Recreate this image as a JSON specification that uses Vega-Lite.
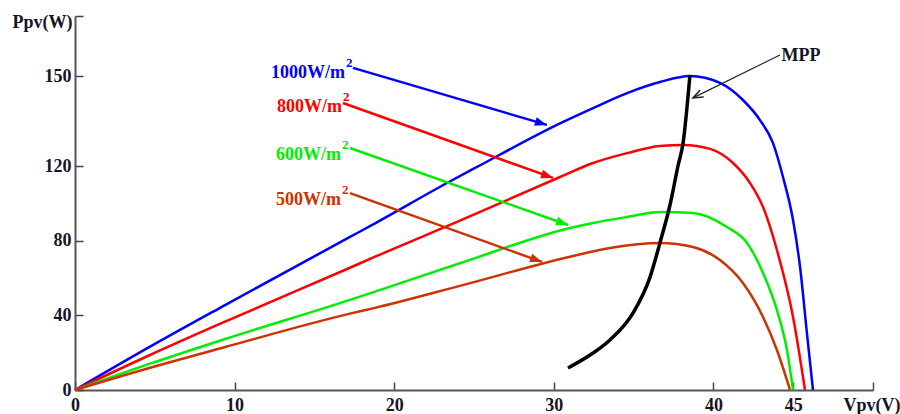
{
  "$schema": "https://vega.github.io/schema/vega-lite/v6.json",
  "width": 798,
  "height": 374,
  "autosize": "none",
  "padding": {"left": 75, "top": 16, "right": 27, "bottom": 24},
  "background": "white",
  "config": {"view": {"stroke": null}, "font": "Liberation Serif"},
  "datasets": {
    "curves": [
      {"s": "1000", "V": 0, "P": 0}, {"s": "1000", "V": 4.7, "P": 23.2}, {"s": "1000", "V": 9.4, "P": 45.5},
      {"s": "1000", "V": 17.23, "P": 82.0}, {"s": "1000", "V": 18.8, "P": 89.3}, {"s": "1000", "V": 23.31, "P": 110.9},
      {"s": "1000", "V": 25.3, "P": 120.0}, {"s": "1000", "V": 30.39, "P": 134.2}, {"s": "1000", "V": 32.46, "P": 139.3},
      {"s": "1000", "V": 34.59, "P": 144.3}, {"s": "1000", "V": 36.65, "P": 148.0}, {"s": "1000", "V": 38.53, "P": 150.0},
      {"s": "1000", "V": 40.41, "P": 147.7}, {"s": "1000", "V": 41.85, "P": 142.0}, {"s": "1000", "V": 42.92, "P": 135.3},
      {"s": "1000", "V": 43.73, "P": 127.7}, {"s": "1000", "V": 44.36, "P": 114.1}, {"s": "1000", "V": 44.99, "P": 91.1},
      {"s": "1000", "V": 45.43, "P": 65.9}, {"s": "1000", "V": 45.86, "P": 30.5}, {"s": "1000", "V": 46.24, "P": 0},
      {"s": "800", "V": 0, "P": 0}, {"s": "800", "V": 4.7, "P": 18.75}, {"s": "800", "V": 9.4, "P": 36.6},
      {"s": "800", "V": 17.23, "P": 65.5}, {"s": "800", "V": 18.8, "P": 71.4}, {"s": "800", "V": 24.12, "P": 90.7},
      {"s": "800", "V": 30.39, "P": 114.1}, {"s": "800", "V": 32.46, "P": 121.0},
      {"s": "800", "V": 34.59, "P": 124.3}, {"s": "800", "V": 36.65, "P": 126.7}, {"s": "800", "V": 38.1, "P": 127.0},
      {"s": "800", "V": 39.79, "P": 125.7}, {"s": "800", "V": 41.23, "P": 121.0}, {"s": "800", "V": 42.29, "P": 110.9},
      {"s": "800", "V": 43.11, "P": 98.0}, {"s": "800", "V": 43.98, "P": 75.0}, {"s": "800", "V": 44.99, "P": 39.1},
      {"s": "800", "V": 45.74, "P": 0},
      {"s": "600", "V": 0, "P": 0}, {"s": "600", "V": 4.7, "P": 14.1}, {"s": "600", "V": 9.4, "P": 27.3},
      {"s": "600", "V": 17.23, "P": 48.3}, {"s": "600", "V": 18.8, "P": 52.7}, {"s": "600", "V": 24.12, "P": 67.9},
      {"s": "600", "V": 31.02, "P": 86.8}, {"s": "600", "V": 32.46, "P": 89.5}, {"s": "600", "V": 34.59, "P": 92.7},
      {"s": "600", "V": 36.65, "P": 95.4}, {"s": "600", "V": 38.72, "P": 94.8}, {"s": "600", "V": 40.85, "P": 87.3},
      {"s": "600", "V": 42.11, "P": 78.8}, {"s": "600", "V": 43.11, "P": 62.7}, {"s": "600", "V": 43.98, "P": 42.9},
      {"s": "600", "V": 44.61, "P": 21.4}, {"s": "600", "V": 44.99, "P": 0},
      {"s": "500", "V": 0, "P": 0}, {"s": "500", "V": 4.7, "P": 11.9}, {"s": "500", "V": 9.4, "P": 23.0},
      {"s": "500", "V": 17.23, "P": 40.9}, {"s": "500", "V": 18.8, "P": 44.0}, {"s": "500", "V": 24.12, "P": 55.8},
      {"s": "500", "V": 31.02, "P": 71.4}, {"s": "500", "V": 33.52, "P": 76.1}, {"s": "500", "V": 36.65, "P": 78.8},
      {"s": "500", "V": 38.72, "P": 76.6}, {"s": "500", "V": 40.41, "P": 69.6}, {"s": "500", "V": 41.85, "P": 57.3},
      {"s": "500", "V": 43.11, "P": 39.1}, {"s": "500", "V": 43.98, "P": 21.4}, {"s": "500", "V": 44.8, "P": 0}
    ],
    "mpp": [
      {"V": 30.89, "P": 11.8}, {"V": 32.46, "P": 19.8}, {"V": 33.52, "P": 26.8}, {"V": 34.96, "P": 41.2},
      {"V": 36.03, "P": 60.5}, {"V": 36.65, "P": 78.8}, {"V": 37.28, "P": 99.1}, {"V": 37.78, "P": 120.0},
      {"V": 38.1, "P": 127.7}, {"V": 38.53, "P": 150.3}
    ],
    "arrows": [
      {"s": "1000", "V": 17.42, "P": 152.7, "V2": 29.57, "P2": 133.7},
      {"s": "800", "V": 16.79, "P": 141.0, "V2": 29.95, "P2": 113.6},
      {"s": "600", "V": 17.23, "P": 126.0, "V2": 30.89, "P2": 88.4},
      {"s": "500", "V": 17.23, "P": 105.5, "V2": 29.26, "P2": 68.6}
    ],
    "mppArrow": [
      {"V": 44.17, "P": 157.0, "V2": 38.72, "P2": 142.7}
    ],
    "labels": [
      {"s": "1000", "text": "1000W/m", "V": 16.92, "P": 151.0},
      {"s": "800", "text": "800W/m", "V": 16.73, "P": 139.7},
      {"s": "600", "text": "600W/m", "V": 16.67, "P": 123.7},
      {"s": "500", "text": "500W/m", "V": 16.67, "P": 101.8}
    ],
    "mppLabel": [
      {"text": "MPP", "V": 44.2, "P": 156.7}
    ]
  },
  "encoding": {
    "x": {
      "field": "V", "type": "quantitative",
      "scale": {"domain": [0, 50], "nice": false, "zero": false},
      "axis": {
        "values": [0, 10, 20, 30, 40, 45, 50],
        "labelExpr": "datum.value == 50 ? '' : datum.label",
        "tickSize": -8, "labelPadding": 14, "labelFlush": false, "labelOverlap": false,
        "labelFontSize": 18, "labelFontWeight": "bold", "labelFont": "Liberation Serif", "labelColor": "#151525",
        "domainColor": "#555555", "domainWidth": 2, "tickColor": "#444444", "tickWidth": 1.5, "grid": false,
        "title": "Vpv(V)", "titleX": 768, "titleY": 20, "titleAlign": "left", "titleBaseline": "alphabetic",
        "titleFontSize": 18, "titleFont": "Liberation Serif", "titleFontWeight": "bold", "titleColor": "#151525"
      }
    },
    "y": {
      "field": "P", "type": "quantitative",
      "scale": {"type": "linear", "domain": [0, 120, 170], "range": [374, 150, 0], "nice": false, "zero": false},
      "axis": {
        "values": [0, 40, 80, 120, 150, 170],
        "labelExpr": "datum.value == 170 ? '' : datum.label",
        "tickSize": -8, "labelPadding": 12, "labelOverlap": false, "labelFlush": false,
        "labelFontSize": 18, "labelFontWeight": "bold", "labelFont": "Liberation Serif", "labelColor": "#151525",
        "domainColor": "#555555", "domainWidth": 2, "tickColor": "#444444", "tickWidth": 1.5, "grid": false,
        "title": "Ppv(W)", "titleAngle": 0, "titleX": -3, "titleY": 11, "titleAlign": "right", "titleBaseline": "alphabetic",
        "titleFontSize": 18, "titleFont": "Liberation Serif", "titleFontWeight": "bold", "titleColor": "#151525"
      }
    }
  },
  "layer": [
    {
      "data": {"name": "curves"},
      "mark": {"type": "line", "strokeWidth": 2.5, "interpolate": "monotone"},
      "encoding": {
        "color": {"field": "s", "type": "nominal", "legend": null,
          "scale": {"domain": ["1000", "800", "600", "500"], "range": ["#0000FF", "#FF0000", "#00EE00", "#CC3300"]}}
      }
    },
    {
      "data": {"name": "mpp"},
      "mark": {"type": "line", "strokeWidth": 3.5, "color": "#000000", "interpolate": "monotone"},
      "encoding": {}
    },
    {
      "data": {"name": "arrows"},
      "mark": {"type": "rule", "strokeWidth": 2.5},
      "encoding": {
        "x2": {"field": "V2"}, "y2": {"field": "P2"},
        "color": {"field": "s", "type": "nominal", "legend": null}
      }
    },
    {
      "data": {"name": "arrows"},
      "transform": [{"filter": "datum.s == '1000'"}],
      "mark": {"type": "point", "shape": "M0,0L-2,-0.75L-2,0.75Z", "filled": true, "size": 144, "angle": 16.4, "opacity": 1, "strokeWidth": 0},
      "encoding": {"x": {"field": "V2", "type": "quantitative"}, "y": {"field": "P2", "type": "quantitative"}, "color": {"field": "s", "type": "nominal", "legend": null}}
    },
    {
      "data": {"name": "arrows"},
      "transform": [{"filter": "datum.s == '800'"}],
      "mark": {"type": "point", "shape": "M0,0L-2,-0.75L-2,0.75Z", "filled": true, "size": 144, "angle": 19.7, "opacity": 1, "strokeWidth": 0},
      "encoding": {"x": {"field": "V2", "type": "quantitative"}, "y": {"field": "P2", "type": "quantitative"}, "color": {"field": "s", "type": "nominal", "legend": null}}
    },
    {
      "data": {"name": "arrows"},
      "transform": [{"filter": "datum.s == '600'"}],
      "mark": {"type": "point", "shape": "M0,0L-2,-0.75L-2,0.75Z", "filled": true, "size": 144, "angle": 19.5, "opacity": 1, "strokeWidth": 0},
      "encoding": {"x": {"field": "V2", "type": "quantitative"}, "y": {"field": "P2", "type": "quantitative"}, "color": {"field": "s", "type": "nominal", "legend": null}}
    },
    {
      "data": {"name": "arrows"},
      "transform": [{"filter": "datum.s == '500'"}],
      "mark": {"type": "point", "shape": "M0,0L-2,-0.75L-2,0.75Z", "filled": true, "size": 144, "angle": 19.8, "opacity": 1, "strokeWidth": 0},
      "encoding": {"x": {"field": "V2", "type": "quantitative"}, "y": {"field": "P2", "type": "quantitative"}, "color": {"field": "s", "type": "nominal", "legend": null}}
    },
    {
      "data": {"name": "mppArrow"},
      "mark": {"type": "rule", "strokeWidth": 1.3, "color": "#222222"},
      "encoding": {"x2": {"field": "V2"}, "y2": {"field": "P2"}}
    },
    {
      "data": {"name": "mppArrow"},
      "mark": {"type": "point", "shape": "M-2,-0.8L0,0L-2,0.8", "filled": false, "size": 100, "angle": 153.7, "opacity": 1, "strokeWidth": 1.5, "color": "#222222"},
      "encoding": {"x": {"field": "V2", "type": "quantitative"}, "y": {"field": "P2", "type": "quantitative"}}
    },
    {
      "data": {"name": "labels"},
      "mark": {"type": "text", "align": "right", "baseline": "middle", "fontSize": 18, "fontWeight": "bold", "font": "Liberation Serif"},
      "encoding": {"text": {"field": "text"}, "color": {"field": "s", "type": "nominal", "legend": null}}
    },
    {
      "data": {"name": "labels"},
      "mark": {"type": "text", "text": "2", "align": "left", "baseline": "middle", "dx": 1, "dy": -10, "fontSize": 13, "fontWeight": "bold", "font": "Liberation Serif"},
      "encoding": {"color": {"field": "s", "type": "nominal", "legend": null}}
    },
    {
      "data": {"name": "mppLabel"},
      "mark": {"type": "text", "align": "left", "baseline": "middle", "dx": 1, "fontSize": 18, "fontWeight": "bold", "font": "Liberation Serif", "color": "#151525"},
      "encoding": {"text": {"field": "text"}}
    }
  ]
}
